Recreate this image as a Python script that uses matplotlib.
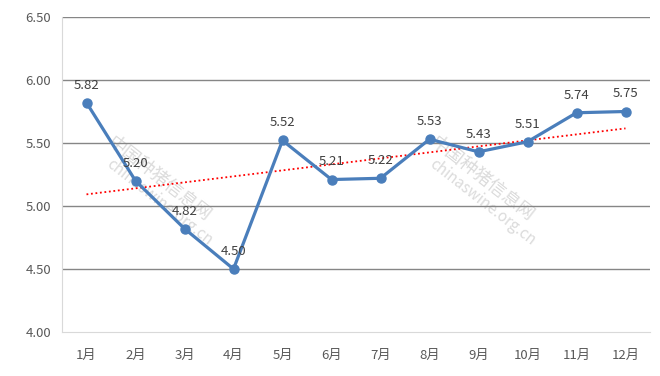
import matplotlib
matplotlib.use("Agg")
import matplotlib.pyplot as plt
import numpy as np

plt.rcParams['font.family'] = ['Noto Sans CJK SC', 'DejaVu Sans']

months = ["1月", "2月", "3月", "4月", "5月", "6月", "7月", "8月", "9月", "10月", "11月", "12月"]
values = [5.82, 5.20, 4.82, 4.50, 5.52, 5.21, 5.22, 5.53, 5.43, 5.51, 5.74, 5.75]
yticks = [4.00, 4.50, 5.00, 5.50, 6.00, 6.50]

fig = plt.figure(figsize=(6.6, 3.76), dpi=100)
ax = fig.add_axes([62/660, 44/376, 588/660, 315/376])

x = np.arange(len(months))
ax.set_xlim(-0.5, len(months) - 0.5)
ax.set_ylim(4.0, 6.5)
ax.set_yticks(yticks)
ax.set_yticklabels([f"{v:.2f}" for v in yticks])
ax.set_xticks(x)
ax.set_xticklabels(months)

for v in yticks[1:]:
    ax.axhline(v, color='#868686', lw=1.0, zorder=1)

for s in ['top', 'right']:
    ax.spines[s].set_visible(False)
ax.spines['left'].set_color('#d9d9d9')
ax.spines['bottom'].set_color('#d9d9d9')
ax.tick_params(length=0, colors='#595959', labelsize=9.5, pad=12)
ax.tick_params(axis='y', pad=8)

# watermark
for (wx, wy) in [(0.07, 0.63), (0.62, 0.63)]:
    ax.text(wx, wy, "中国种猪信息网", transform=ax.transAxes, rotation=-38,
            fontsize=13, color='#cccccc', alpha=0.7, ha='left', va='top', zorder=0)
    ax.text(wx + 0.0, wy - 0.07, "chinaswine.org.cn", transform=ax.transAxes, rotation=-38,
            fontsize=11, color='#cccccc', alpha=0.7, ha='left', va='top', zorder=0)

coef = np.polyfit(x, values, 1)
trend = np.polyval(coef, x)
ax.plot(x, trend, color='#ff0000', lw=1.3, ls=(0, (1, 1.5)), zorder=2)

ax.plot(x, values, color='#4a7ebb', lw=2.3, marker='o', markersize=6.5, zorder=3)

for xi, v in zip(x, values):
    ax.annotate(f"{v:.2f}", (xi, v), textcoords='offset points', xytext=(0, 8),
                ha='center', va='bottom', fontsize=9.5, color='#404040', zorder=4)

fig.savefig("out.png", dpi=100)
